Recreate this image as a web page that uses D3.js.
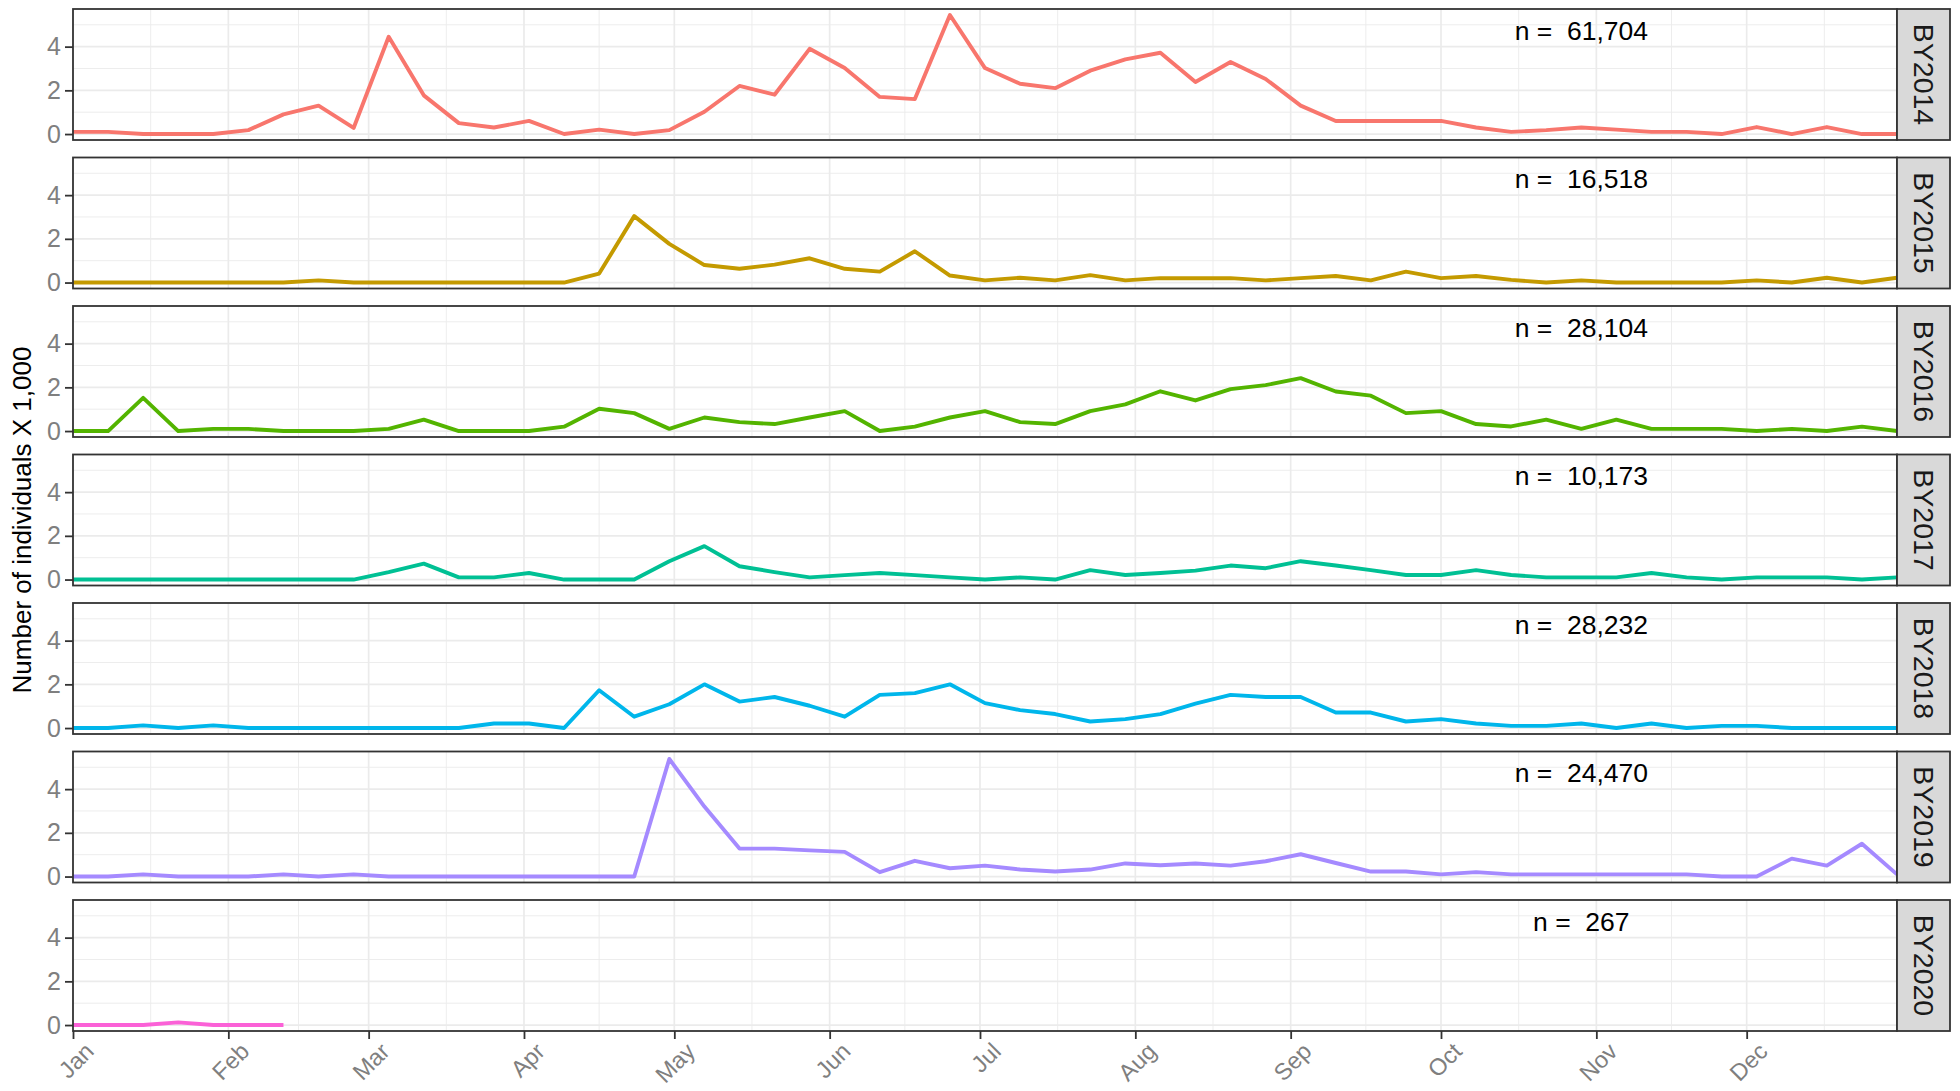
<!DOCTYPE html>
<html>
<head>
<meta charset="utf-8">
<script src="https://cdn.jsdelivr.net/npm/d3@7"></script>
<style>
  body { margin: 0; background: #fff; }
  text { font-family: "Liberation Sans", Arial, sans-serif; }
</style>
</head>
<body>
<svg id="chart" width="1960" height="1091"></svg>
<script>
// brood years (facets) and their totals
var broodYears = ["BY2014", "BY2015", "BY2016", "BY2017", "BY2018", "BY2019", "BY2020"];
var totals = ["61,704", "16,518", "28,104", "10,173", "28,232", "24,470", "267"];

// weekly counts, thousands of individuals, week 1 = Jan 1
var by2014 = [0.1, 0.1, 0, 0, 0, 0.18, 0.9, 1.3, 0.28, 4.45, 1.77, 0.5, 0.3, 0.6, 0, 0.2, 0, 0.18, 1.02, 2.2,
  1.8, 3.9, 3.02, 1.7, 1.6, 5.45, 3.02, 2.3, 2.1, 2.9, 3.42, 3.72, 2.38, 3.3, 2.52, 1.3, 0.6, 0.6, 0.6, 0.6,
  0.3, 0.1, 0.18, 0.3, 0.2, 0.1, 0.1, 0, 0.32, 0, 0.32, 0, 0];
var by2015 = [0, 0, 0, 0, 0, 0, 0, 0.1, 0, 0, 0, 0, 0, 0, 0, 0.41, 3.04, 1.77, 0.8, 0.63,
  0.82, 1.11, 0.63, 0.5, 1.43, 0.32, 0.1, 0.22, 0.1, 0.34, 0.1, 0.2, 0.2, 0.2, 0.1, 0.2, 0.3, 0.1, 0.5, 0.2,
  0.3, 0.12, 0, 0.1, 0, 0, 0, 0, 0.1, 0, 0.22, 0, 0.22];
var by2016 = [0, 0, 1.52, 0, 0.1, 0.1, 0, 0, 0, 0.1, 0.52, 0, 0, 0, 0.2, 1.02, 0.82, 0.1, 0.62, 0.41,
  0.32, 0.62, 0.91, 0, 0.2, 0.62, 0.91, 0.41, 0.32, 0.91, 1.22, 1.82, 1.4, 1.92, 2.1, 2.42, 1.81, 1.62, 0.82, 0.91,
  0.32, 0.21, 0.52, 0.1, 0.52, 0.1, 0.1, 0.1, 0, 0.1, 0, 0.2, 0];
var by2017 = [0, 0, 0, 0, 0, 0, 0, 0, 0, 0.34, 0.73, 0.1, 0.1, 0.3, 0, 0, 0, 0.84, 1.53, 0.61,
  0.34, 0.1, 0.2, 0.3, 0.2, 0.1, 0, 0.1, 0, 0.43, 0.21, 0.3, 0.41, 0.64, 0.52, 0.84, 0.64, 0.43, 0.21, 0.21,
  0.43, 0.21, 0.1, 0.1, 0.1, 0.3, 0.1, 0, 0.1, 0.1, 0.1, 0, 0.1];
var by2018 = [0, 0, 0.12, 0, 0.12, 0, 0, 0, 0, 0, 0, 0, 0.21, 0.21, 0, 1.73, 0.52, 1.09, 2.0, 1.21,
  1.42, 1.02, 0.52, 1.52, 1.6, 2.0, 1.14, 0.82, 0.64, 0.3, 0.41, 0.64, 1.12, 1.52, 1.42, 1.42, 0.71, 0.71, 0.3, 0.41,
  0.21, 0.1, 0.1, 0.21, 0, 0.21, 0, 0.1, 0.1, 0, 0, 0, 0];
var by2019 = [0, 0, 0.1, 0, 0, 0, 0.1, 0, 0.1, 0, 0, 0, 0, 0, 0, 0, 0, 5.38, 3.2, 1.28,
  1.28, 1.2, 1.13, 0.2, 0.72, 0.38, 0.5, 0.32, 0.23, 0.32, 0.6, 0.52, 0.6, 0.5, 0.7, 1.02, 0.62, 0.23, 0.23, 0.1,
  0.2, 0.1, 0.1, 0.1, 0.1, 0.1, 0.1, 0, 0, 0.82, 0.5, 1.5, 0.1];
var by2020 = [0, 0, 0, 0.12, 0, 0, 0];

var series = [by2014, by2015, by2016, by2017, by2018, by2019, by2020];
var colors = ["#F8766D", "#C49A00", "#53B400", "#00C094", "#00B6EB", "#A58AFF", "#FB61D7"];
var yMajor = [0, 2, 4];
var yMinor = [1, 3, 5];

// layout
var left = 73, right = 1897, stripW = 53;
var top0 = 9, panelH = 131, step = 148.5;

var svg = d3.select('#chart');

var start = new Date(2001, 0, 1), end = new Date(2001, 11, 31);
var weeks = d3.range(53).map(function(i) { return d3.timeDay.offset(start, 7 * i); });
var months = d3.timeMonth.range(start, d3.timeDay.offset(end, 1));
var minorX = months.map(function(m) { return new Date((+m + +d3.timeMonth.offset(m, 1)) / 2); });

var x = d3.scaleTime().domain([start, end]).range([left, right]);
var maxV = d3.max(series, function(s) { return d3.max(s); });
var y = d3.scaleLinear().domain([-0.05 * maxV, maxV * 1.05]).range([panelH, 0]);

var line = d3.line()
  .x(function(d, i) { return x(weeks[i]); })
  .y(function(d) { return y(d); });

series.forEach(function(vals, k) {
  var g = svg.append('g').attr('transform', 'translate(0,' + (top0 + k * step) + ')');

  g.append('rect').attr('x', left).attr('y', 0).attr('width', right - left).attr('height', panelH)
    .attr('fill', '#fff');

  // grid
  g.selectAll('.hmin').data(yMinor).enter().append('line')
    .attr('x1', left).attr('x2', right).attr('y1', y).attr('y2', y)
    .attr('stroke', '#EBEBEB').attr('stroke-width', 0.9);
  g.selectAll('.vmin').data(minorX).enter().append('line')
    .attr('x1', x).attr('x2', x).attr('y1', 0).attr('y2', panelH)
    .attr('stroke', '#EBEBEB').attr('stroke-width', 0.9);
  g.selectAll('.hmaj').data(yMajor).enter().append('line')
    .attr('x1', left).attr('x2', right).attr('y1', y).attr('y2', y)
    .attr('stroke', '#EBEBEB').attr('stroke-width', 1.7);
  g.selectAll('.vmaj').data(months).enter().append('line')
    .attr('x1', x).attr('x2', x).attr('y1', 0).attr('y2', panelH)
    .attr('stroke', '#EBEBEB').attr('stroke-width', 1.7);

  g.append('path').datum(vals)
    .attr('d', line)
    .attr('fill', 'none')
    .attr('stroke', colors[k])
    .attr('stroke-width', 3.9)
    .attr('stroke-linejoin', 'round');

  g.append('text')
    .attr('x', x(new Date(2001, 9, 29)))
    .attr('y', y(4.75))
    .attr('dy', '0.35em')
    .attr('text-anchor', 'middle')
    .attr('font-size', 26.5)
    .attr('fill', '#000')
    .style('white-space', 'pre')
    .text('n =  ' + totals[k]);

  g.append('rect').attr('x', left).attr('y', 0).attr('width', right - left).attr('height', panelH)
    .attr('fill', 'none').attr('stroke', '#333333').attr('stroke-width', 1.8);

  // strip
  g.append('rect').attr('x', right).attr('y', 0).attr('width', stripW).attr('height', panelH)
    .attr('fill', '#D9D9D9').attr('stroke', '#333333').attr('stroke-width', 1.8);
  g.append('text')
    .attr('transform', 'translate(' + (right + stripW / 2) + ',' + (panelH / 2) + ') rotate(90)')
    .attr('text-anchor', 'middle')
    .attr('dy', '0.35em')
    .attr('font-size', 28.5)
    .attr('fill', '#1A1A1A')
    .text(broodYears[k]);

  // y axis
  var ya = g.append('g').attr('transform', 'translate(' + left + ',0)')
    .call(d3.axisLeft(y).tickValues(yMajor).tickFormat(d3.format('d')).tickSize(8).tickPadding(4));
  ya.select('.domain').remove();
  ya.selectAll('line').attr('stroke', '#333333').attr('stroke-width', 1.8);
  ya.selectAll('text').attr('font-size', 25).attr('fill', '#7F7F7F')
    .attr('font-family', '"Liberation Sans", Arial, sans-serif');
});

// x axis under the last panel
var xa = svg.append('g')
  .attr('transform', 'translate(0,' + (top0 + 6 * step + panelH) + ')')
  .call(d3.axisBottom(x).tickValues(months).tickFormat(d3.timeFormat('%b')).tickSize(8).tickPadding(2));
xa.select('.domain').remove();
xa.selectAll('line').attr('stroke', '#333333').attr('stroke-width', 1.8);
xa.selectAll('text')
  .attr('font-size', 23.5).attr('fill', '#7F7F7F')
  .attr('font-family', '"Liberation Sans", Arial, sans-serif')
  .attr('text-anchor', 'end')
  .attr('transform', 'translate(3,3) rotate(-45)')
  .attr('dy', '0.71em');

svg.append('text')
  .attr('transform', 'translate(22,' + (top0 + (6 * step + panelH) / 2) + ') rotate(-90)')
  .attr('text-anchor', 'middle')
  .attr('dy', '0.35em')
  .attr('font-size', 26)
  .attr('fill', '#000')
  .text('Number of individuals X 1,000');
</script>
</body>
</html>
